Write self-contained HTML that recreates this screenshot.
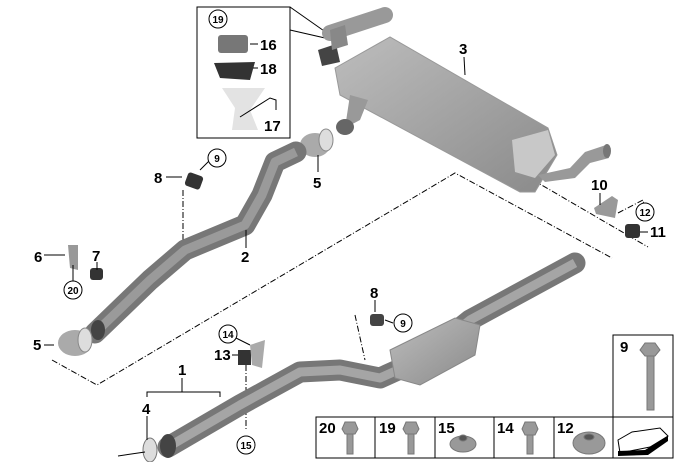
<!DOCTYPE html>
<html><head><meta charset="utf-8"><style>
body{margin:0;background:#fff}
svg{display:block}
text{font-family:"Liberation Sans",Arial,sans-serif;font-weight:bold;fill:#000}
.n{font-size:15px}
.c{font-size:10px}
</style></head><body>
<svg width="680" height="462" viewBox="0 0 680 462" xmlns="http://www.w3.org/2000/svg">
<defs>
<linearGradient id="mg" x1="0" y1="0" x2="1" y2="1"><stop offset="0" stop-color="#bdbdbd"/><stop offset="1" stop-color="#8a8a8a"/></linearGradient>
</defs>
<!-- dash-dot outline -->
<g fill="none" stroke="#000" stroke-width="1" stroke-dasharray="6,2,1,2">
<polyline points="52,360 97,385 455,173 612,258"/>
<line x1="533" y1="180" x2="648" y2="247"/>
<polyline points="618,213 643,200 644,206"/>
<line x1="183" y1="190" x2="183" y2="240"/>
<line x1="246" y1="365" x2="246" y2="430"/>
<polyline points="355,315 365,360"/>
</g>
<!-- top-left box -->
<rect x="197" y="7" width="93" height="131" fill="#fff" stroke="#000"/>
<line x1="290" y1="7" x2="327" y2="33" stroke="#000"/>
<line x1="290" y1="30" x2="325" y2="38" stroke="#000"/>
<!-- muffler 3 -->
<path d="M330 33 L385 15" stroke="#999" stroke-width="16" stroke-linecap="round"/>
<path d="M318 50 L336 44 L340 62 L322 66Z" fill="#444"/>
<path d="M330 30 L345 25 L348 45 L332 50Z" fill="#888"/>
<polygon points="335,68 390,37 548,128 557,155 535,192 520,192 340,95" fill="url(#mg)" stroke="#999"/>
<polygon points="512,140 548,130 555,155 535,178 515,172" fill="#c8c8c8"/>
<path d="M350 95 L368 100 L360 120 L345 128Z" fill="#999"/>
<ellipse cx="345" cy="127" rx="9" ry="8" fill="#666"/>
<path d="M538 175 L570 168 L585 152 L606 145 L609 158 L590 163 L575 178 L545 182Z" fill="#999"/>
<ellipse cx="607" cy="151" rx="4" ry="7" fill="#777"/>
<!-- clamp 5 top -->
<ellipse cx="315" cy="145" rx="15" ry="12" fill="#aaa"/>
<ellipse cx="326" cy="140" rx="7" ry="11" fill="#ddd" stroke="#888"/>
<!-- pipe 2 -->
<path d="M95 333 L150 280 L185 250 L245 225 L262 195 L275 162 L296 152" fill="none" stroke="#777" stroke-width="21" stroke-linejoin="round" stroke-linecap="round"/>
<path d="M95 333 L150 280 L185 250 L245 225 L262 195 L275 162 L296 152" fill="none" stroke="#9a9a9a" stroke-width="9" stroke-linejoin="round"/>
<ellipse cx="98" cy="330" rx="7" ry="10" fill="#444"/>
<!-- clamp 5 bottom -->
<ellipse cx="75" cy="343" rx="17" ry="13" fill="#aaa"/>
<ellipse cx="85" cy="340" rx="7" ry="12" fill="#ddd" stroke="#888"/>
<!-- pipe 1 -->
<path d="M168 447 L240 405 L300 372 L340 370 L380 378 L420 360 L470 320 L575 263" fill="none" stroke="#777" stroke-width="21" stroke-linejoin="round" stroke-linecap="round"/>
<path d="M168 447 L240 405 L300 372 L340 370 L380 378 L420 360 L470 320 L575 263" fill="none" stroke="#a5a5a5" stroke-width="9" stroke-linejoin="round"/>
<ellipse cx="168" cy="446" rx="8" ry="12" fill="#444"/>
<polygon points="390,350 455,318 480,325 475,355 420,385 395,378" fill="url(#mg)" stroke="#888"/>
<ellipse cx="150" cy="450" rx="7" ry="12" fill="#ddd" stroke="#777"/>
<!-- small parts -->
<rect x="186" y="174" width="16" height="14" rx="3" fill="#333" transform="rotate(20 194 181)"/>
<rect x="370" y="314" width="14" height="12" rx="3" fill="#444"/>
<rect x="90" y="268" width="13" height="12" rx="3" fill="#333"/>
<rect x="238" y="350" width="13" height="15" fill="#333"/>
<path d="M250 345 L265 340 L262 368 L252 365Z" fill="#aaa"/>
<path d="M68 245 L78 245 L78 270 L70 268Z" fill="#999"/>
<path d="M594 208 L612 196 L618 200 L615 218 L596 214Z" fill="#999"/>
<rect x="625" y="224" width="15" height="14" rx="3" fill="#333"/>
<!-- parts in box -->
<rect x="218" y="35" width="30" height="18" rx="3" fill="#777"/>
<path d="M214 63 L255 62 L250 80 L220 78Z" fill="#333"/>
<path d="M222 88 L265 88 L250 110 L258 130 L232 130 L235 108Z" fill="#e3e3e3"/>
<!-- leader lines -->
<g stroke="#000" stroke-width="1" fill="none">
<line x1="250" y1="44" x2="258" y2="44"/><line x1="253" y1="68" x2="258" y2="68"/>
<polyline points="240,117 270,98 276,100 276,110"/>
<line x1="464" y1="57" x2="465" y2="75"/>
<line x1="166" y1="177" x2="182" y2="177"/><line x1="200" y1="170" x2="210" y2="160"/>
<line x1="246" y1="230" x2="246" y2="248"/>
<line x1="318" y1="155" x2="318" y2="172"/>
<line x1="44" y1="255" x2="65" y2="255"/><line x1="73" y1="265" x2="73" y2="283"/>
<line x1="97" y1="262" x2="97" y2="270"/>
<line x1="44" y1="345" x2="54" y2="345"/>
<polyline points="147,397 147,392 220,392 220,397"/><line x1="182" y1="378" x2="182" y2="392"/>
<line x1="147" y1="416" x2="147" y2="440"/><line x1="118" y1="456" x2="145" y2="452"/>
<line x1="232" y1="355" x2="238" y2="355"/><line x1="236" y1="338" x2="250" y2="345"/>
<line x1="600" y1="193" x2="600" y2="205"/>
<line x1="640" y1="232" x2="648" y2="232"/>
<line x1="375" y1="300" x2="375" y2="312"/><line x1="385" y1="320" x2="393" y2="323"/>
</g>
<!-- labels -->
<g class="n">
<text x="459" y="54">3</text><text x="260" y="50">16</text><text x="260" y="74">18</text><text x="264" y="131">17</text>
<text x="154" y="183">8</text><text x="241" y="262">2</text><text x="313" y="188">5</text>
<text x="34" y="262">6</text><text x="92" y="261">7</text><text x="33" y="350">5</text>
<text x="178" y="375">1</text><text x="142" y="414">4</text><text x="214" y="360">13</text>
<text x="370" y="298">8</text><text x="591" y="190">10</text><text x="650" y="237">11</text>
</g>
<g fill="#fff" stroke="#000">
<circle cx="218" cy="19" r="9"/><circle cx="217" cy="158" r="9"/><circle cx="73" cy="290" r="9"/>
<circle cx="403" cy="323" r="9"/><circle cx="228" cy="334" r="9"/><circle cx="246" cy="445" r="9"/><circle cx="645" cy="212" r="9"/>
</g>
<g class="c" text-anchor="middle">
<text x="218" y="23">19</text><text x="217" y="162">9</text><text x="73" y="294">20</text>
<text x="403" y="327">9</text><text x="228" y="338">14</text><text x="246" y="449">15</text><text x="645" y="216">12</text>
</g>
<!-- table -->
<g fill="none" stroke="#000">
<rect x="613" y="335" width="60" height="82"/>
<rect x="316" y="417" width="357" height="41"/>
<line x1="375" y1="417" x2="375" y2="458"/><line x1="435" y1="417" x2="435" y2="458"/>
<line x1="494" y1="417" x2="494" y2="458"/><line x1="554" y1="417" x2="554" y2="458"/><line x1="613" y1="417" x2="613" y2="458"/>
</g>
<g class="n"><text x="620" y="352">9</text><text x="319" y="433">20</text><text x="379" y="433">19</text><text x="438" y="433">15</text><text x="497" y="433">14</text><text x="557" y="433">12</text></g>
<g fill="#999" stroke="#777">
<polygon points="645,343 655,343 660,350 655,356 645,356 640,350"/><rect x="647" y="356" width="7" height="54"/>
<polygon points="345,422 355,422 358,429 355,434 345,434 342,429"/><rect x="347" y="434" width="6" height="20"/>
<polygon points="406,422 416,422 419,429 416,434 406,434 403,429"/><rect x="408" y="434" width="6" height="20"/>
<ellipse cx="463" cy="444" rx="13" ry="8"/><ellipse cx="463" cy="438" rx="4" ry="3" fill="#555"/>
<polygon points="525,422 535,422 538,429 535,435 525,435 522,429"/><rect x="527" y="435" width="6" height="19"/>
<ellipse cx="589" cy="443" rx="16" ry="11"/><ellipse cx="589" cy="437" rx="5" ry="3" fill="#555"/>
</g>
<path d="M618 440 L632 432 L660 428 L668 436 L650 447 L620 453Z" fill="#fff" stroke="#000"/>
<path d="M618 451 L645 450 L668 436 L668 441 L648 455 L618 456Z" fill="#000"/>
</svg>
</body></html>
